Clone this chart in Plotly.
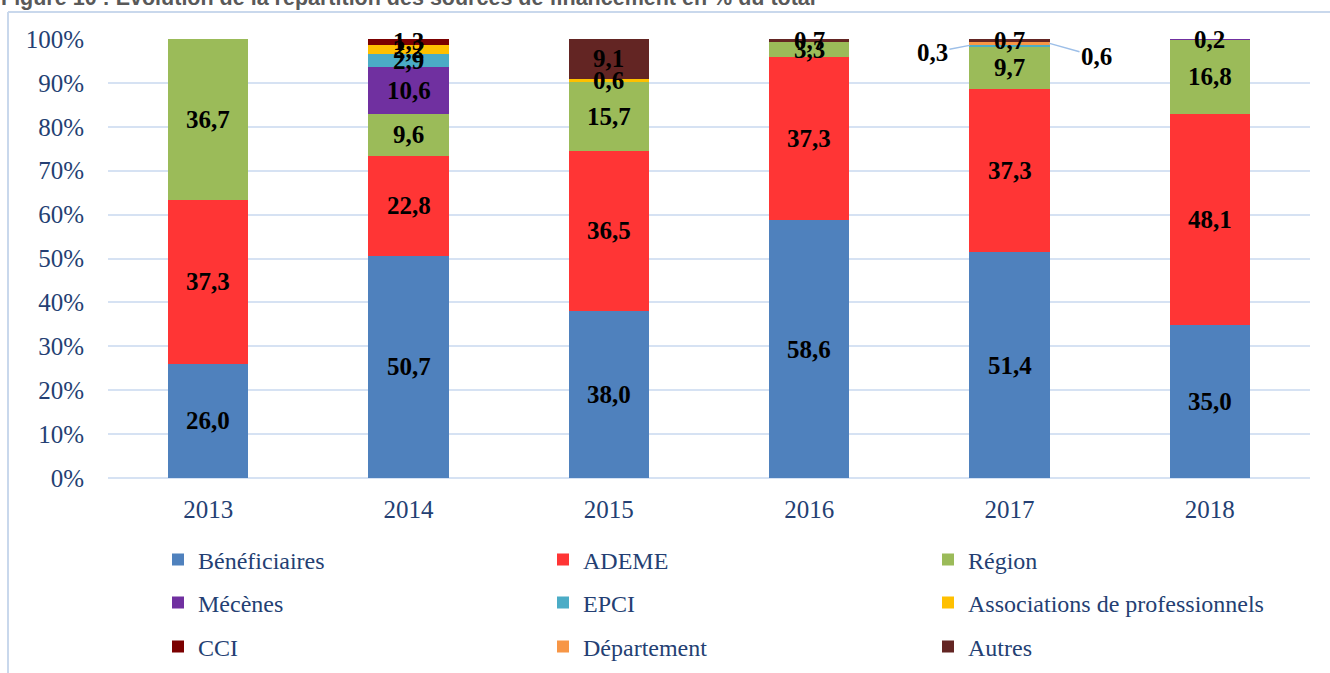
import plotly.graph_objects as go

years = ["2013", "2014", "2015", "2016", "2017", "2018"]
series = ["Bénéficiaires", "ADEME", "Région", "Mécènes", "EPCI",
          "Associations de professionnels", "CCI", "Département", "Autres"]
beneficiaires = [26.0, 50.7, 38.0, 58.6, 51.4, 35.0]
ademe = [37.3, 22.8, 36.5, 37.3, 37.3, 48.1]
region = [36.7, 9.6, 15.7, 3.3, 9.7, 16.8]
mecenes = [0, 10.6, 0, 0, 0, 0.2]
epci = [0, 2.9, 0, 0, 0.3, 0]
associations = [0, 2.2, 0.6, 0, 0, 0]
cci = [0, 1.3, 0, 0, 0, 0]
departement = [0, 0, 0, 0, 0.6, 0]
autres = [0, 0, 9.1, 0.7, 0.7, 0]
values = [beneficiaires, ademe, region, mecenes, epci, associations, cci, departement, autres]
colors = ["#4F81BD", "#FF3535", "#9BBB59", "#7030A0", "#4BACC6",
          "#FFC000", "#7B0000", "#F79646", "#632523"]
# labels drawn outside with a leader line: (year, series index, dx, dy)
callouts = [("2017", 4, -37, 7), ("2017", 7, 47, 13)]

def fmt(v):
    return f"{v:.1f}".replace(".", ",")

SERIF = "Liberation Serif"
BLUE_TXT = "#243F73"
LABEL_FONT = dict(family=SERIF, size=25, color="black", weight="bold")
fig = go.Figure()
legends = ["legend", "legend2", "legend3"]
for i, (name, vals, col) in enumerate(zip(series, values, colors)):
    fig.add_trace(go.Bar(
        x=list(years), y=list(vals), name=name, marker_color=col, marker_line_width=0,
        legend=legends[i // 3], width=0.4, hoverinfo="skip",
    ))

# data labels (centred in each segment of the normalised stack)
for j, yr in enumerate(years):
    tot = sum(v[j] for v in values)
    below = 0.0
    for i, vals in enumerate(values):
        v = vals[j]
        mid = (below + v / 2) / tot * 100
        below += v
        if v == 0:
            continue
        co = [c for c in callouts if c[0] == yr and c[1] == i]
        if co:
            dx, dy = co[0][2], co[0][3]
            fig.add_annotation(x=j, y=mid, text=fmt(v), showarrow=True, arrowhead=0,
                               arrowwidth=1.5, arrowcolor="#9DBFE8", ax=dx, ay=dy,
                               xshift=40 if dx > 0 else -40, font=LABEL_FONT)
        else:
            fig.add_annotation(x=j, y=mid, text=fmt(v), showarrow=False, font=LABEL_FONT)

W, H = 1330, 673
L, R, T, B = 108, 20, 39, 195
pw, ph = W - L - R, H - T - B

def px_x(x):
    return (x - L) / pw

def px_y(y):
    return (H - B - y) / ph

fig.add_annotation(xref="paper", yref="paper", x=px_x(-1), y=px_y(12), xanchor="left", yanchor="bottom",
                   text="<b>Figure 10 : Evolution de la répartition des sources de financement en % du total</b>",
                   showarrow=False, font=dict(family="Liberation Sans", size=21.5, color="#595959"))
fig.add_shape(type="line", xref="paper", yref="paper", x0=px_x(8), x1=px_x(1335), y0=px_y(12), y1=px_y(12),
              line=dict(color="#C9D8EC", width=2))
fig.add_shape(type="line", xref="paper", yref="paper", x0=px_x(8), x1=px_x(8), y0=px_y(12), y1=px_y(680),
              line=dict(color="#C9D8EC", width=2))

legend_common = dict(orientation="h", entrywidth=340, bgcolor="rgba(0,0,0,0)", traceorder="normal",
                     font=dict(family=SERIF, size=24, color=BLUE_TXT),
                     xref="container", yref="container",
                     x=158 / W, xanchor="left", yanchor="middle")
fig.update_layout(
    width=W, height=H, barmode="stack", barnorm="percent",
    plot_bgcolor="white", paper_bgcolor="white",
    margin=dict(l=L, r=R, t=T, b=B, autoexpand=False),
    showlegend=True,
    legend=dict(**legend_common, y=1 - 560 / H),
    legend2=dict(**legend_common, y=1 - 603 / H),
    legend3=dict(**legend_common, y=1 - 647 / H),
    xaxis=dict(type="category", categoryorder="array", categoryarray=years,
               range=[-0.5, len(years) - 0.5], autorange=False, automargin=False,
               tickfont=dict(family=SERIF, size=25, color=BLUE_TXT), showline=False,
               ticklabelstandoff=14),
    yaxis=dict(range=[0, 100], autorange=False, automargin=False, dtick=10, ticksuffix="%",
               showgrid=True, gridcolor="#D6E2F3",
               gridwidth=2, zeroline=True, zerolinecolor="#D6E2F3", zerolinewidth=2,
               tickfont=dict(family=SERIF, size=25, color=BLUE_TXT), ticklabelstandoff=23),
)
fig.write_html("out.html", config={"displayModeBar": False},
               post_script="document.body.style.margin='0';")
